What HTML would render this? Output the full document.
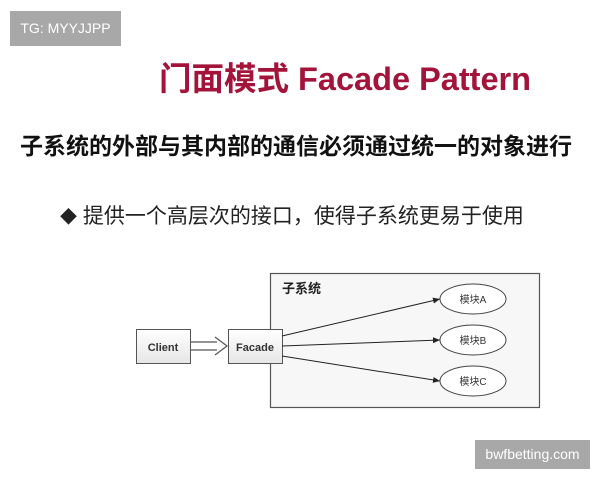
<!DOCTYPE html>
<html><head><meta charset="utf-8"><style>
body{margin:0;width:600px;height:480px;background:#fff;position:relative;overflow:hidden;font-family:"Liberation Sans","Noto Sans CJK SC",sans-serif}
.a{position:absolute;white-space:nowrap}
</style></head><body>
<div class="a" style="left:10px;top:11px;width:111px;height:35px;background:#a8a8a8;color:#fff;font-size:14px;line-height:35px;text-align:center">TG: MYYJJPP</div>
<div class="a" style="left:159px;top:59px;font-size:32.5px;font-weight:bold;color:#a3133a;line-height:40px">门面模式 Facade Pattern</div>
<div class="a" style="left:20px;top:130px;font-size:23px;font-weight:bold;color:#111;line-height:32px">子系统的外部与其内部的通信必须通过统一的对象进行</div>
<div class="a" style="left:60px;top:202px;font-size:21px;color:#222;line-height:30px"><span style="font-size:17px">◆</span> 提供一个高层次的接口，使得子系统更易于使用</div>
<svg class="a" style="left:0;top:0" width="600" height="480">
<defs><marker id="m" markerWidth="8" markerHeight="8" refX="7" refY="4" orient="auto" markerUnits="userSpaceOnUse"><path d="M0,1 L7,4 L0,7z" fill="#222"/></marker>
<linearGradient id="g" x1="0" y1="0" x2="0" y2="1"><stop offset="0" stop-color="#fff"/><stop offset="1" stop-color="#e6e6e6"/></linearGradient></defs>
<rect x="270.5" y="273.5" width="269" height="134" fill="#f7f7f7" stroke="#555" stroke-width="1.2"/>
<text x="282" y="293" font-size="13" font-weight="bold" font-family="Noto Sans CJK SC,sans-serif" fill="#222">子系统</text>
<rect x="136.5" y="329.5" width="54" height="34" fill="url(#g)" stroke="#555"/>
<text x="163" y="351" font-size="11" font-weight="bold" text-anchor="middle" fill="#333">Client</text>
<rect x="228.5" y="329.5" width="54" height="34" fill="url(#g)" stroke="#555"/>
<text x="255" y="351" font-size="11" font-weight="bold" text-anchor="middle" fill="#333">Facade</text>
<path d="M191,342 H217 M191,350 H217" stroke="#555" stroke-width="1.2"/>
<path d="M215,337 L227,346 L215,355" fill="none" stroke="#555" stroke-width="1.2"/>
<line x1="282" y1="336" x2="440" y2="299" stroke="#222" marker-end="url(#m)"/>
<line x1="282" y1="346" x2="440" y2="340" stroke="#222" marker-end="url(#m)"/>
<line x1="282" y1="356" x2="440" y2="381" stroke="#222" marker-end="url(#m)"/>
<g fill="#fff" stroke="#444"><ellipse cx="473" cy="299" rx="33" ry="15"/><ellipse cx="473" cy="340" rx="33" ry="15"/><ellipse cx="473" cy="381" rx="33" ry="15"/></g>
<g font-size="10" text-anchor="middle" fill="#333" font-family="Liberation Sans,Noto Sans CJK SC,sans-serif"><text x="473" y="303">模块A</text><text x="473" y="344">模块B</text><text x="473" y="385">模块C</text></g>
</svg>
<div class="a" style="left:475px;top:440px;width:115px;height:29px;background:#a8a8a8;color:#fff;font-size:14px;line-height:29px;text-align:center">bwfbetting.com</div>
</body></html>
